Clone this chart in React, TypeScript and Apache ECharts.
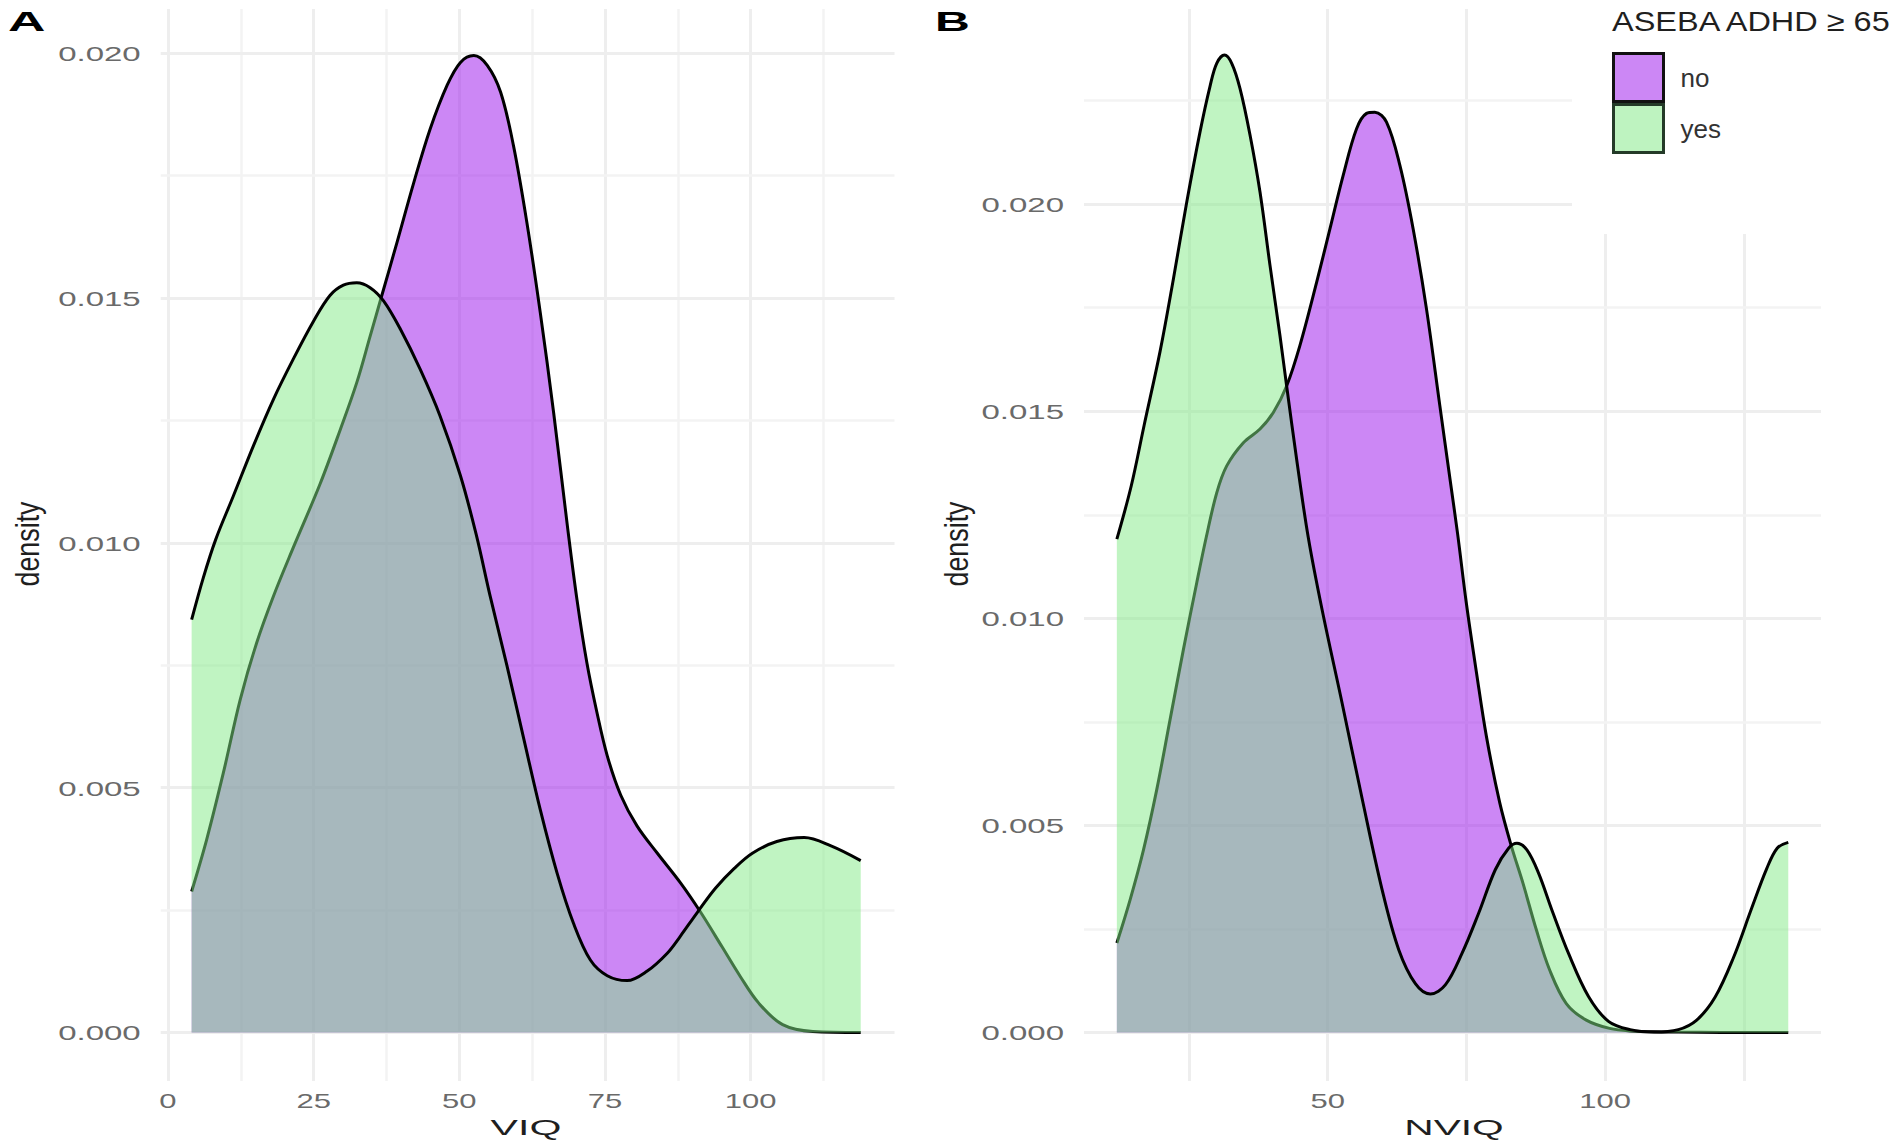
import { useEffect, useRef } from "react";
import * as echarts from "echarts";

const FONT = '"Liberation Sans", Arial, sans-serif';

// density curves, [x, density]
const viqNo = [
    [4.06, 0.00288], [6.64, 0.00394], [9.5, 0.0053], [12.4, 0.0068], [15.2, 0.00795], [18.1, 0.00891], [21.5, 0.0099],
    [26.1, 0.0112], [29.6, 0.01232], [32.4, 0.01327], [34.7, 0.01422], [36.7, 0.01505], [39.3, 0.01613], [42.2, 0.01736],
    [45, 0.01845], [47.9, 0.01934], [50.2, 0.01981], [52.5, 0.01995], [54.8, 0.01975], [57.1, 0.0192], [59.3, 0.01811],
    [61.6, 0.01654], [63.9, 0.0147], [66.2, 0.01265], [68.6, 0.0103], [70.2, 0.00884], [71.9, 0.00755], [73.6, 0.00655],
    [75.4, 0.00565], [77.7, 0.00485], [80.5, 0.00422], [84, 0.00366], [88, 0.00305], [91.4, 0.00246], [95.1, 0.00175],
    [98.2, 0.00115], [101.4, 0.0006], [105.5, 0.00016], [110.7, 0.00002], [118.9, 0],
];
const viqYes = [
    [4.06, 0.00843], [6.07, 0.00929], [8.2, 0.01007], [11.2, 0.01095], [14.66, 0.01198], [18.1, 0.01293], [21.5, 0.01375],
    [25, 0.01453], [27.8, 0.01505], [30.1, 0.01526], [32.4, 0.01531], [34.7, 0.01521], [37, 0.01494], [39.9, 0.01436],
    [43.3, 0.01354], [46.7, 0.01259], [50.2, 0.01137], [52.9, 0.01017], [55.3, 0.00891], [58.2, 0.00748], [61.1, 0.00598],
    [63.9, 0.00455], [66.8, 0.00325], [69.6, 0.00223], [72.5, 0.00148], [75.4, 0.00116], [78.8, 0.00106], [82.2, 0.00125],
    [85.7, 0.00162], [87.9, 0.00196], [90.9, 0.00246], [94, 0.00295], [97.2, 0.00335], [100.3, 0.00366], [104.5, 0.0039],
    [109.2, 0.00398], [113.8, 0.00381], [118.9, 0.00351],
];
const nviqNo = [
    [12, 0.00216], [14.4, 0.00321], [16.8, 0.00441], [19.2, 0.00587], [21.6, 0.00756], [24, 0.00925], [26.4, 0.01086],
    [28.1, 0.01195], [30, 0.01303], [31.8, 0.01368], [34.8, 0.01424], [37.8, 0.01457], [40.2, 0.01497], [42.6, 0.01561],
    [45, 0.01659], [48, 0.01811], [50.4, 0.0194], [52.8, 0.0207], [55.2, 0.02182], [57, 0.02219], [58.5, 0.02222],
    [60.6, 0.02198], [63, 0.02094], [65.4, 0.0194], [67.8, 0.01747], [70.2, 0.01514], [72, 0.0134], [73.4, 0.01205],
    [75, 0.01035], [76.8, 0.0087], [78.6, 0.00715], [81, 0.00555], [83.1, 0.0045], [85.2, 0.0036], [87.6, 0.00248],
    [90, 0.00151], [93, 0.0007], [96.6, 0.0003], [100.8, 0.0001], [104.5, 0.00004], [113.2, 0.00001], [133, 0],
];
const nviqYes = [
    [12, 0.01191], [14.6, 0.0132], [16.9, 0.01465], [19.8, 0.01645], [22.2, 0.0182], [24.6, 0.02005], [27, 0.02175],
    [28.8, 0.02285], [30, 0.0234], [31.4, 0.0236], [32.7, 0.0234], [34.2, 0.02279], [36, 0.02167], [37.8, 0.02029],
    [39.6, 0.01852], [41.4, 0.01682], [42.6, 0.01561], [44.4, 0.01384], [46.5, 0.01195], [49, 0.0102], [52.6, 0.00795],
    [56.2, 0.00565], [59.8, 0.00345], [62.8, 0.002], [65.8, 0.00118], [68.5, 0.00093], [71.2, 0.00115], [74.2, 0.00191],
    [77.2, 0.00288], [80.2, 0.00393], [82.6, 0.00445], [84.1, 0.00457], [85.9, 0.00441], [88, 0.00385], [90.4, 0.00296],
    [93.4, 0.00191], [97, 0.00087], [100.6, 0.00027], [104.5, 0.00007], [108.8, 0.00001], [113.2, 0.00007], [116.5, 0.0003],
    [119.8, 0.00085], [123.1, 0.0018], [126.4, 0.003], [129.1, 0.00395], [131, 0.00445], [133, 0.00459],
];

const viqTicks = [0, 25, 50, 75, 100];
const viqMinor = [12.5, 37.5, 62.5, 87.5, 112.5];
const nviqTicks = [50, 100];
const nviqUnlabelled = [25, 75, 125];
const viqDensityTicks = [0, 0.005, 0.01, 0.015, 0.02];
const viqDensityMinor = [0.0025, 0.0075, 0.0125, 0.0175];
const nviqDensityTicks = [0, 0.005, 0.01, 0.015, 0.02];
const nviqDensityMinor = [0.0025, 0.0075, 0.0125, 0.0175, 0.0225];

const PURPLE = "rgba(153, 15, 235, 0.5)";
const GREEN = "rgba(130, 233, 133, 0.5)";

function gridLines(idx: number, xMajor: number[], xMinor: number[], yMajor: number[], yMinor: number[]) {
    const major = { color: "#eeeeee", width: 3, type: "solid" };
    const minor = { color: "#f3f3f3", width: 2.5, type: "solid" };
    return {
        type: "line",
        name: `grid-${idx}`,
        xAxisIndex: idx,
        yAxisIndex: idx,
        data: [],
        z: 1,
        silent: true,
        markLine: {
            silent: true,
            symbol: "none",
            animation: false,
            z: 1,
            precision: 6,
            label: { show: false },
            data: [
                ...xMajor.map((v) => ({ xAxis: v, lineStyle: major })),
                ...xMinor.map((v) => ({ xAxis: v, lineStyle: minor })),
                ...yMajor.map((v) => ({ yAxis: v, lineStyle: major })),
                ...yMinor.map((v) => ({ yAxis: v, lineStyle: minor })),
            ],
        },
    };
}

function curve(idx: number, name: string, data: number[][], fill: string, z: number) {
    return {
        type: "line",
        name,
        xAxisIndex: idx,
        yAxisIndex: idx,
        data,
        z,
        smooth: 0.35,
        symbol: "none",
        lineStyle: { color: "#000", width: 3 },
        itemStyle: { color: fill },
        areaStyle: { color: fill, opacity: 1 },
    };
}

// tick labels sit on the axis scale, but the picture has them stretched sideways
function xTickLabels(idx: number, ticks: number[], yMin: number) {
    return {
        type: "custom",
        xAxisIndex: idx,
        yAxisIndex: idx,
        z: 6,
        silent: true,
        clip: false,
        data: ticks.map((t) => [t, yMin]),
        renderItem: (_: any, api: any) => {
            const p = api.coord([api.value(0), api.value(1)]);
            return {
                type: "text",
                x: p[0],
                y: p[1] + 20,
                scaleX: 1.55,
                style: {
                    text: String(api.value(0)),
                    font: `20px ${FONT}`,
                    fill: "#6a6a6a",
                    textAlign: "center",
                    verticalAlign: "middle",
                },
            };
        },
    };
}

function yTickLabels(idx: number, ticks: number[], xMin: number) {
    return {
        type: "custom",
        xAxisIndex: idx,
        yAxisIndex: idx,
        z: 6,
        silent: true,
        clip: false,
        data: ticks.map((t) => [xMin, t]),
        renderItem: (_: any, api: any) => {
            const p = api.coord([api.value(0), api.value(1)]);
            return {
                type: "text",
                x: p[0] - 20,
                y: p[1] + 1,
                scaleX: 1.65,
                style: {
                    text: api.value(1).toFixed(3),
                    font: `20px ${FONT}`,
                    fill: "#6a6a6a",
                    textAlign: "right",
                    verticalAlign: "middle",
                },
            };
        },
    };
}

function titleText(text: string, x: number, y: number, extra: any, scaleX: number, scaleY = 1, rotation = 0, align = "center") {
    return {
        type: "text",
        x,
        y,
        z: 110,
        scaleX,
        scaleY,
        rotation,
        style: { text, font: `22px ${FONT}`, fill: "#1f1f1f", textAlign: align, verticalAlign: "middle", ...extra },
    };
}

export default function App() {
    const chartRef = useRef<HTMLDivElement | null>(null);

    useEffect(() => {
        if (!chartRef.current) return;
        const chart = echarts.init(chartRef.current, undefined, { renderer: "svg" });

        const hiddenAxis = { axisLine: { show: false }, axisTick: { show: false }, axisLabel: { show: false }, splitLine: { show: false } };
        const viqRange = [-1.25, 124.7];
        const nviqRange = [6.08, 138.9];
        const viqDensity = [-0.00099, 0.0209];
        const nviqDensity = [-0.00117, 0.02471];

        const option: any = {
            animation: false,
            backgroundColor: "#fff",
            grid: [
                { left: 160.7, top: 9, width: 733.8, height: 1072 },
                { left: 1084, top: 9, width: 737, height: 1072 },
            ],
            xAxis: [
                { type: "value", gridIndex: 0, min: viqRange[0], max: viqRange[1], ...hiddenAxis },
                { type: "value", gridIndex: 1, min: nviqRange[0], max: nviqRange[1], ...hiddenAxis },
            ],
            yAxis: [
                { type: "value", gridIndex: 0, min: viqDensity[0], max: viqDensity[1], ...hiddenAxis },
                { type: "value", gridIndex: 1, min: nviqDensity[0], max: nviqDensity[1], ...hiddenAxis },
            ],
            legend: {
                left: 1612,
                top: 52,
                orient: "vertical",
                z: 100,
                padding: 0,
                itemWidth: 50,
                itemHeight: 48,
                itemGap: 0,
                icon: "rect",
                selectedMode: false,
                textStyle: { fontFamily: FONT, fontSize: 26, color: "#333", padding: [0, 0, 0, 12] },
                data: [
                    { name: "no", itemStyle: { color: "#cc87f5", borderColor: "#111", borderWidth: 3 } },
                    { name: "yes", itemStyle: { color: "#bef3c0", borderColor: "#243a28", borderWidth: 3 } },
                ],
            },
            graphic: [
                // legend box background hides the gridlines behind it
                { type: "rect", z: 50, shape: { x: 1572, y: 0, width: 260, height: 234 }, style: { fill: "#fff" } },
                titleText("A", 8, 21, { font: `bold 28px ${FONT}`, fill: "#000" }, 1.85, 1, 0, "left"),
                titleText("B", 935, 21, { font: `bold 28px ${FONT}`, fill: "#000" }, 1.72, 1, 0, "left"),
                titleText("VIQ", 526, 1127, {}, 1.87),
                titleText("NVIQ", 1454, 1127, {}, 1.85),
                titleText("density", 27, 544, {}, 1.22, 1.5, Math.PI / 2),
                titleText("density", 956, 544, {}, 1.22, 1.5, Math.PI / 2),
                titleText("ASEBA ADHD \u2265 65", 1612, 21, { font: `28px ${FONT}` }, 1.16, 1, 0, "left"),
            ],
            series: [
                gridLines(0, viqTicks, viqMinor, viqDensityTicks, viqDensityMinor),
                gridLines(1, [...nviqTicks, ...nviqUnlabelled], [], nviqDensityTicks, nviqDensityMinor),
                curve(0, "no", viqNo, PURPLE, 2),
                curve(0, "yes", viqYes, GREEN, 3),
                curve(1, "no", nviqNo, PURPLE, 2),
                curve(1, "yes", nviqYes, GREEN, 3),
                xTickLabels(0, viqTicks, viqDensity[0]),
                xTickLabels(1, nviqTicks, nviqDensity[0]),
                yTickLabels(0, viqDensityTicks, viqRange[0]),
                yTickLabels(1, nviqDensityTicks, nviqRange[0]),
            ],
        };

        chart.setOption(option);

        return () => {
            chart.dispose();
        };
    }, []);

    return <div ref={chartRef} style={{ position: "absolute", left: 0, top: 0, width: 1902, height: 1148 }} />;
}
